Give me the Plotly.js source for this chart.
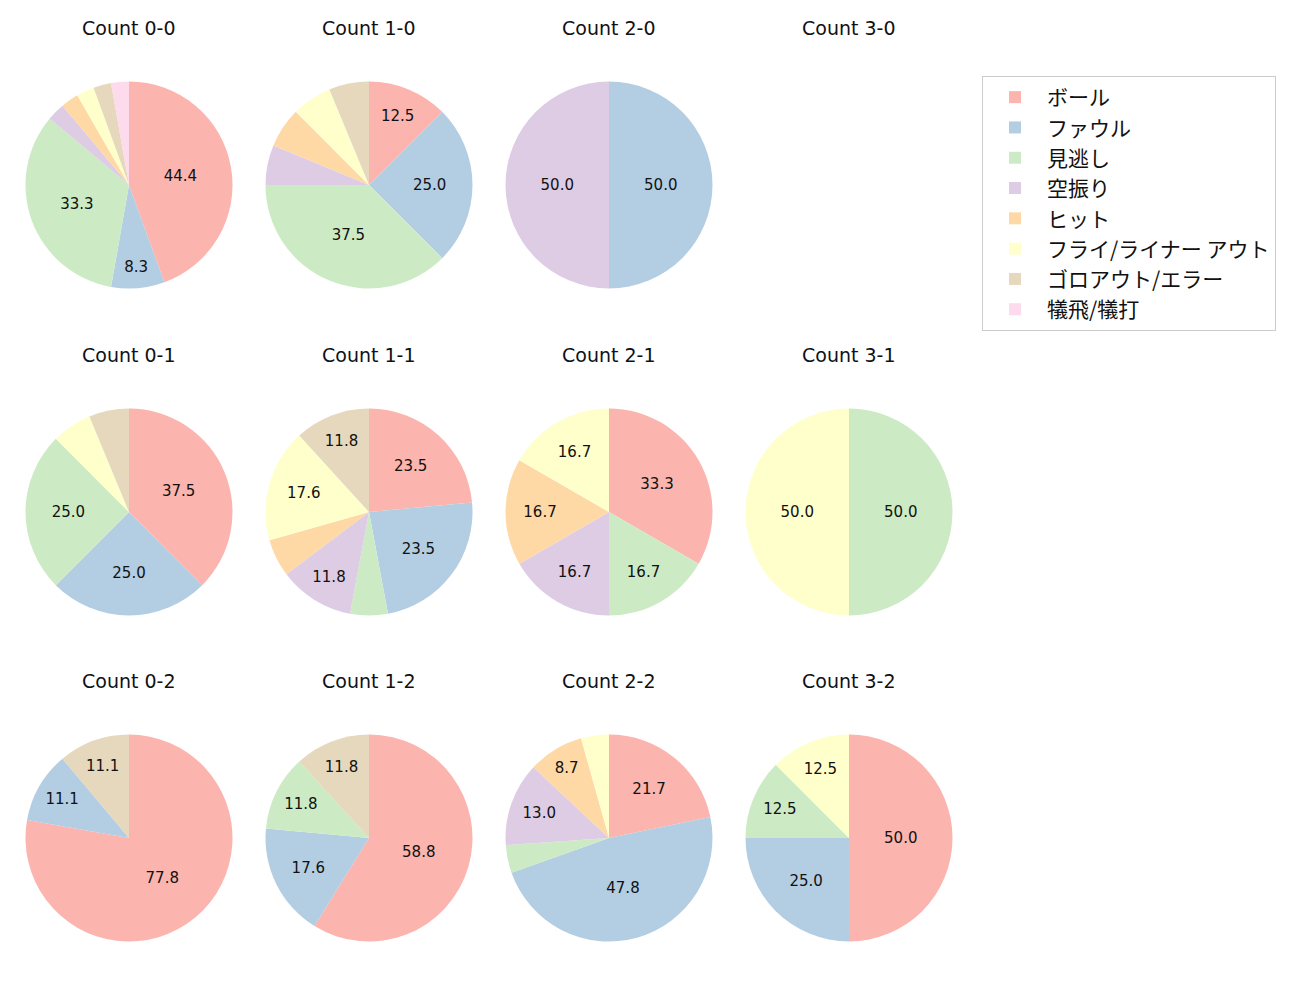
<!DOCTYPE html>
<html>
<head>
<meta charset="utf-8">
<script src="https://cdn.plot.ly/plotly-3.0.1.min.js"></script>
<style>
  body { margin: 0; background: #fff; }
  #chart { width: 1300px; height: 1000px; }
</style>
</head>
<body>
<div id="chart"></div>
<script>
// result categories, same order as the legend
var labels = ["ボール", "ファウル", "見逃し", "空振り", "ヒット", "フライ/ライナー アウト", "ゴロアウト/エラー", "犠飛/犠打"];
var colors = ["#fbb4ae", "#b3cde3", "#ccebc5", "#decbe4", "#fed9a6", "#ffffcc", "#e5d8bd", "#fddaec"];

// pitch counts per ball-strike count (balls-strikes)
var count00 = [16, 3, 12, 1, 1, 1, 1, 1];
var count10 = [2, 4, 6, 1, 1, 1, 1, 0];
var count20 = [0, 1, 0, 1, 0, 0, 0, 0];
var count30 = [0, 0, 0, 0, 0, 0, 0, 0];
var count01 = [6, 4, 4, 0, 0, 1, 1, 0];
var count11 = [4, 4, 1, 2, 1, 3, 2, 0];
var count21 = [2, 0, 1, 1, 1, 1, 0, 0];
var count31 = [0, 0, 1, 0, 0, 1, 0, 0];
var count02 = [7, 1, 0, 0, 0, 0, 1, 0];
var count12 = [10, 3, 2, 0, 0, 0, 2, 0];
var count22 = [5, 11, 1, 3, 2, 1, 0, 0];
var count32 = [4, 2, 1, 0, 0, 1, 0, 0];

var panels = [
  {name: "Count 0-0", vals: count00, row: 0, col: 0},
  {name: "Count 1-0", vals: count10, row: 0, col: 1},
  {name: "Count 2-0", vals: count20, row: 0, col: 2},
  {name: "Count 3-0", vals: count30, row: 0, col: 3},
  {name: "Count 0-1", vals: count01, row: 1, col: 0},
  {name: "Count 1-1", vals: count11, row: 1, col: 1},
  {name: "Count 2-1", vals: count21, row: 1, col: 2},
  {name: "Count 3-1", vals: count31, row: 1, col: 3},
  {name: "Count 0-2", vals: count02, row: 2, col: 0},
  {name: "Count 1-2", vals: count12, row: 2, col: 1},
  {name: "Count 2-2", vals: count22, row: 2, col: 2},
  {name: "Count 3-2", vals: count32, row: 2, col: 3}
];

var W = 1300, H = 1000;
var colX = [129, 369, 609, 849];
var rowY = [185, 512, 838];
var R = 103.5;
var latin = "DejaVu Sans, Noto Sans CJK JP, sans-serif";
var jp = "Noto Sans CJK JP, DejaVu Sans, sans-serif";

var data = [];
var annotations = [];

panels.forEach(function (p) {
  var cx = colX[p.col], cy = rowY[p.row];
  annotations.push({
    text: p.name, showarrow: false,
    x: cx / W, y: 1 - (cy - 157) / H,
    xref: "paper", yref: "paper", xanchor: "center", yanchor: "middle",
    font: {size: 19, color: "#111", family: latin}
  });
  var total = p.vals.reduce(function (a, b) { return a + b; }, 0);
  if (total === 0) return;
  var txt = p.vals.map(function (v) {
    var pct = v / total * 100;
    return pct >= 7 ? pct.toFixed(1) : "";
  });
  data.push({
    type: "pie",
    labels: labels,
    values: p.vals,
    text: txt,
    textinfo: "text",
    textposition: "inside",
    insidetextorientation: "horizontal",
    textfont: {size: 15, color: "#111", family: latin},
    sort: false,
    direction: "clockwise",
    rotation: 0,
    marker: {colors: colors, line: {width: 0}},
    domain: {
      x: [(cx - R) / W, (cx + R) / W],
      y: [1 - (cy + R) / H, 1 - (cy - R) / H]
    },
    hoverinfo: "label+percent"
  });
});

var layout = {
  width: W, height: H,
  margin: {l: 0, r: 0, t: 0, b: 0},
  paper_bgcolor: "#fff",
  font: {family: latin, color: "#111"},
  showlegend: true,
  legend: {
    x: 982 / W, y: 1 - 76 / H, xanchor: "left", yanchor: "top",
    bordercolor: "#cccccc", borderwidth: 1,
    font: {size: 21, family: jp, color: "#111"},
    itemwidth: 54,
    traceorder: "normal"
  },
  annotations: annotations
};

Plotly.newPlot("chart", data, layout, {displayModeBar: false});
</script>
</body>
</html>
